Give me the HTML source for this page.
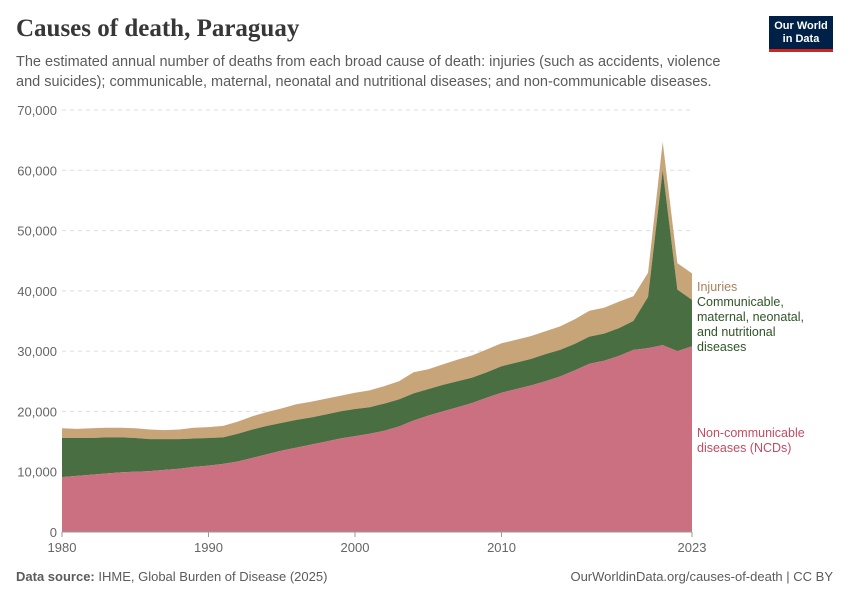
<!DOCTYPE html>
<html><head><meta charset="utf-8"><style>
body{margin:0;background:#fff;font-family:"Liberation Sans",sans-serif;}
#wrap{position:relative;width:850px;height:600px;overflow:hidden;}
.t{position:absolute;margin:0;}
</style></head><body>
<div id="wrap">
<h1 class="t" style="left:16px;top:15px;font-family:'Liberation Serif',serif;font-size:25px;font-weight:bold;color:#373737;">Causes of death, Paraguay</h1>
<p class="t" style="left:16px;top:52px;width:730px;font-size:14.5px;line-height:20px;color:#5b5b5b;">The estimated annual number of deaths from each broad cause of death: injuries (such as accidents, violence and suicides); communicable, maternal, neonatal and nutritional diseases; and non-communicable diseases.</p>
<div class="t" style="left:769px;top:16px;width:64px;height:36px;background:#002147;color:#fff;font-size:11px;font-weight:bold;line-height:13px;text-align:center;padding-top:4px;box-sizing:border-box;border-bottom:3px solid #ce261e;">Our World<br>in Data</div>
<svg id="chart" width="850" height="600" style="position:absolute;left:0;top:0"></svg>
<div class="t" style="left:16px;top:569px;font-size:13px;color:#5b5b5b;"><b>Data source:</b> IHME, Global Burden of Disease (2025)</div>
<div class="t" style="right:17px;top:569px;font-size:13px;color:#5b5b5b;">OurWorldinData.org/causes-of-death | CC BY</div>
</div>
<script>
const years=[];for(let y=1980;y<=2023;y++)years.push(y);
const ncd=[9.1,9.3,9.5,9.7,9.9,10.0,10.1,10.3,10.5,10.8,11.0,11.3,11.7,12.3,12.9,13.5,14.0,14.5,15.0,15.5,15.9,16.3,16.8,17.5,18.5,19.3,20.0,20.7,21.4,22.3,23.1,23.7,24.3,25.0,25.8,26.8,27.9,28.4,29.2,30.2,30.5,31.0,30.0,30.8];
const communicable=[6.5,6.3,6.1,6.0,5.8,5.6,5.3,5.1,4.9,4.7,4.6,4.4,4.6,4.7,4.7,4.6,4.6,4.5,4.5,4.5,4.5,4.4,4.5,4.5,4.5,4.4,4.4,4.3,4.2,4.2,4.4,4.4,4.4,4.5,4.4,4.4,4.5,4.5,4.6,4.8,8.5,29.0,10.2,7.7];
const injuries=[1.6,1.5,1.6,1.6,1.6,1.6,1.6,1.5,1.6,1.8,1.8,1.9,2.0,2.2,2.3,2.4,2.6,2.6,2.6,2.6,2.7,2.8,2.9,3.0,3.5,3.3,3.4,3.6,3.7,3.8,3.8,3.8,3.8,3.8,3.9,4.1,4.3,4.3,4.4,4.1,4.0,4.7,4.4,4.4];
const yTicks=[0,10000,20000,30000,40000,50000,60000,70000];
const xTicks=[1980,1990,2000,2010,2023];
const NS='http://www.w3.org/2000/svg';
const svg=document.getElementById('chart');
const X=y=>62+(y-1980)*(630/43);
const Y=v=>532-v*(422/70000);
function mk(t,a){const e=document.createElementNS(NS,t);for(const k in a)e.setAttribute(k,a[k]);svg.appendChild(e);return e;}
yTicks.forEach(v=>{
 if(v>0){const l=mk('line',{x1:62,x2:692,y1:Y(v),y2:Y(v),stroke:'#ddd','stroke-dasharray':'4,4'});
 
 }
 const t=mk('text',{x:57,y:Y(v)+5,'text-anchor':'end','font-size':'13','fill':'#666','font-family':'Liberation Sans,sans-serif'});
 t.textContent=v.toLocaleString('en-US');
 
 
});
const base=years.map(()=>0);
const s1=ncd.map(v=>v*1000),s2=s1.map((v,i)=>v+communicable[i]*1000),s3=s2.map((v,i)=>v+injuries[i]*1000);
function area(lo,hi,col,name){
 let d='M'+years.map((y,i)=>X(y)+','+Y(hi[i])).join('L');
 for(let i=years.length-1;i>=0;i--)d+='L'+X(years[i])+','+Y(lo[i]);
 const p=mk('path',{d:d+'Z',fill:col});
 
 
}
area(s2,s3,'#c8a479','area-injuries');
area(s1,s2,'#486e41','area-communicable');
area(base,s1,'#cb7081','area-ncd');
mk('line',{x1:62,x2:692,y1:532,y2:532,stroke:'#999'});
xTicks.forEach(y=>{
 mk('line',{x1:X(y),x2:X(y),y1:532,y2:537,stroke:'#999'});
 const t=mk('text',{x:X(y),y:552,'text-anchor':'middle','font-size':'13','fill':'#666','font-family':'Liberation Sans,sans-serif'});
 t.textContent=y;
 
 
});
function lab(lines,y0,col,name){
 const t=mk('text',{x:697,y:y0,'font-size':'12.5','fill':col,'font-family':'Liberation Sans,sans-serif'});
 lines.forEach((s,i)=>{const ts=document.createElementNS(NS,'tspan');ts.setAttribute('x',697);ts.setAttribute('dy',i?15:0);ts.textContent=s;t.appendChild(ts);});
 
 
}
lab(['Injuries'],291,'#a7835a','legend-injuries');
lab(['Communicable,','maternal, neonatal,','and nutritional','diseases'],306,'#2f5527','legend-communicable');
lab(['Non-communicable','diseases (NCDs)'],437,'#c34c63','legend-ncd');
</script>
</body></html>
